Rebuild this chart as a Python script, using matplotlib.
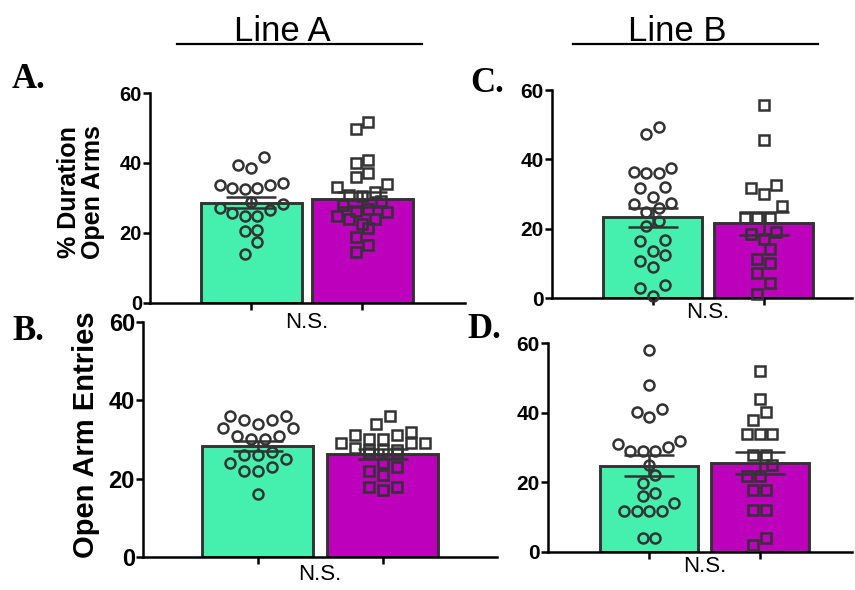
import matplotlib
matplotlib.use("Agg")
import matplotlib.pyplot as plt
from matplotlib.lines import Line2D
from matplotlib import font_manager
import numpy as np

# ---------------- data ----------------
groups = ["Control", "Mutant"]
a_green = [41.7, 39.4, 38.7, 34.3, 33.6, 33.6, 33.0, 32.9, 32.7, 28.9, 28.4, 27.2, 26.5,
           25.8, 24.8, 24.8, 20.9, 20.7, 17.3, 14.0]
a_purple = [51.8, 49.7, 41.0, 40.1, 37.2, 36.1, 34.0, 33.1, 31.8, 30.9, 30.6, 29.2, 28.0,
            26.8, 26.4, 26.1, 24.9, 24.0, 24.0, 22.6, 21.3, 18.8, 16.6, 14.7]
b_green = [35.9, 35.9, 34.9, 34.9, 33.9, 32.9, 32.9, 30.9, 30.9, 30.0, 30.0, 26.7, 25.9,
           25.9, 24.9, 23.9, 22.9, 21.9, 21.9, 16.0]
b_purple = [36.0, 33.9, 31.9, 31.1, 31.1, 30.0, 30.0, 29.0, 29.0, 29.0, 27.7, 27.3, 27.2,
            27.2, 26.4, 26.4, 23.9, 23.0, 22.0, 21.0, 17.9, 17.9, 17.1]
c_green = [49.3, 47.4, 37.5, 36.4, 36.1, 36.1, 32.0, 31.6, 29.2, 27.3, 27.0, 26.0, 24.9,
           22.3, 20.8, 16.7, 16.4, 13.6, 12.4, 10.7, 9.0, 3.7, 2.8, 0.6]
c_purple = [55.8, 45.5, 32.5, 31.7, 30.0, 26.5, 23.1, 23.1, 23.1, 18.9, 18.6, 17.0, 14.1,
            11.2, 10.1, 7.2, 4.2, 1.1]
d_green = [58.0, 48.0, 41.0, 40.1, 38.9, 32.0, 31.0, 30.1, 29.0, 29.0, 29.0, 25.0, 22.1,
           19.9, 16.9, 16.1, 13.9, 11.8, 11.8, 11.8, 11.8, 3.9, 3.9]
d_purple = [52.1, 44.0, 40.1, 38.0, 34.0, 34.0, 34.0, 27.9, 27.9, 25.0, 21.9, 21.9, 17.9,
            17.9, 11.9, 11.9, 3.9, 2.0]

means_a = [28.7, 29.6]
sems_a = [1.5, 2.1]
means_b = [28.4, 26.3]
sems_b = [1.3, 1.2]
means_c = [23.3, 21.6]
sems_c = [2.8, 3.3]
means_d = [24.7, 25.5]
sems_d = [3.0, 3.2]

yticks = [0, 20, 40, 60]
panel_letters = ["A.", "B.", "C.", "D."]
line_titles = ["Line A", "Line B"]
ylabel_a = "% Duration\nOpen Arms"
ylabel_b = "Open Arm Entries"
ns_text = "N.S."

# ---------------- style ----------------
W, H = 855, 590
GREEN = "#45F0AE"
PURPLE = "#BC00BC"
EDGE = "#333333"
SANS = "Liberation Sans"
SERIF = "Liberation Serif"
_names = {f.name for f in font_manager.fontManager.ttflist}
TITLE_FONT = "Liberation Sans Narrow" if "Liberation Sans Narrow" in _names else SANS
TITLE_FS = 29 if TITLE_FONT != SANS else 25

fig = plt.figure(figsize=(W / 100, H / 100), dpi=100)
fig.patch.set_facecolor("white")


def fx(px):
    return px / W


def fy(py):
    return 1 - py / H


def swarm_x(vals, ax, xc, step, row_h):
    """GraphPad-like column scatter: values binned in rows of height row_h (px),
    each row spread symmetrically around the column centre."""
    vals = np.asarray(vals, float)
    tr = ax.transData
    ypx = np.array([tr.transform((0, v))[1] for v in vals])
    ppu = tr.transform((1, 0))[0] - tr.transform((0, 0))[0]
    order = np.argsort(vals, kind="stable")
    off = np.zeros(len(vals))
    i, n = 0, len(vals)
    while i < n:
        start = ypx[order[i]]
        j = i
        while j < n and ypx[order[j]] - start <= row_h * 1.02:
            j += 1
        row = order[i:j]
        m = len(row)
        for k, idx in enumerate(row):
            if m % 2 == 1:
                r = (k + 1) // 2
                sgn = -1 if k % 2 == 1 else 1
            else:
                r = k // 2 + 0.5
                sgn = -1 if k % 2 == 0 else 1
            off[idx] = sgn * r * step
        i = j
    return xc + off / ppu


def panel(geom, green, purple, means, sems, tick_fs, ns_off, step, rows):
    x0, x1, y60, y0, c0, c1, bw = geom
    ax = fig.add_axes([fx(x0), fy(y0), (x1 - x0) / W, (y0 - y60) / H])
    sp = c1 - c0
    ax.set_xlim((x0 - c0) / sp, (x1 - c0) / sp)
    ax.set_ylim(0, 60)
    pos = [0, 1]
    ax.bar(pos, means, width=bw / sp, color=[GREEN, PURPLE], edgecolor=EDGE,
           linewidth=2.1, zorder=1)
    gx = swarm_x(green, ax, 0, step, step * rows[0])
    px_ = swarm_x(purple, ax, 1, step, step * rows[1])
    ax.plot(gx, green, linestyle="none", marker="o", ms=7.2, mfc="none", mec=EDGE,
            mew=1.8, zorder=3, clip_on=False)
    ax.plot(px_, purple, linestyle="none", marker="s", ms=6.8, mfc="none", mec=EDGE,
            mew=1.8, zorder=3, clip_on=False)
    ax.errorbar(pos, means, yerr=sems, fmt="none", ecolor=EDGE, elinewidth=1.8,
                capsize=18, capthick=1.8, zorder=4)
    for s in ["top", "right"]:
        ax.spines[s].set_visible(False)
    for s in ["left", "bottom"]:
        ax.spines[s].set_linewidth(1.8)
        ax.spines[s].set_color("black")
    ax.set_yticks(yticks)
    ax.set_yticklabels([str(t) for t in yticks], fontsize=tick_fs, fontweight="bold",
                       family=SANS)
    ax.set_xticks(pos)
    ax.set_xticklabels([])
    ax.tick_params(axis="both", direction="out", length=4.8, width=1.8, color="black",
                   pad=1)
    ax.patch.set_alpha(0)
    ax.annotate(ns_text, xy=(0.5, 0), xycoords=("data", "axes fraction"),
                xytext=(0, -ns_off), textcoords="offset pixels", ha="center",
                va="center", fontsize=16, family=SANS, annotation_clip=False)
    return ax


# geometry: x_left, x_right, y(60), y(0), bar centre 1, bar centre 2, bar width (pixels)
panel((150, 465, 93, 303, 251, 362, 101), a_green, a_purple, means_a, sems_a, 14.5, 20,
      12.6, (1.0, 1.0))
panel((143, 497, 321.7, 557, 257.5, 382.5, 111), b_green, b_purple, means_b, sems_b, 17, 18,
      14.0, (1.0, 0.75))
panel((552, 852, 90, 298, 652.5, 763.5, 99), c_green, c_purple, means_c, sems_c, 15, 14,
      12.6, (1.0, 1.0))
panel((548, 852, 343.3, 551.7, 649, 759.5, 98), d_green, d_purple, means_d, sems_d, 15, 15,
      12.5, (1.0, 1.0))

# headers
for title, cx, lx0, lx1 in [(line_titles[0], 282, 177, 422), (line_titles[1], 677, 573, 818)]:
    fig.text(fx(cx), fy(41), title, ha="center", va="baseline", fontsize=TITLE_FS,
             family=TITLE_FONT)
    fig.add_artist(Line2D([fx(lx0), fx(lx1)], [fy(44), fy(44)], color="black", lw=1.6))

# panel letters
for letter, lx, ly in [(panel_letters[0], 12, 88), (panel_letters[1], 12, 340),
                       (panel_letters[2], 470, 92), (panel_letters[3], 467, 338)]:
    fig.text(fx(lx), fy(ly), letter, ha="left", va="baseline", fontsize=25,
             fontweight="bold", family=SERIF)

# y labels
fig.text(fx(81), fy(192), ylabel_a, rotation=90, ha="center", va="center",
         multialignment="center", fontsize=18, fontweight="bold", family=SANS,
         linespacing=0.98)
fig.text(fx(86), fy(435), ylabel_b, rotation=90, ha="center", va="center",
         fontsize=21, fontweight="bold", family=SANS)

fig.savefig("out.png", dpi=100)
